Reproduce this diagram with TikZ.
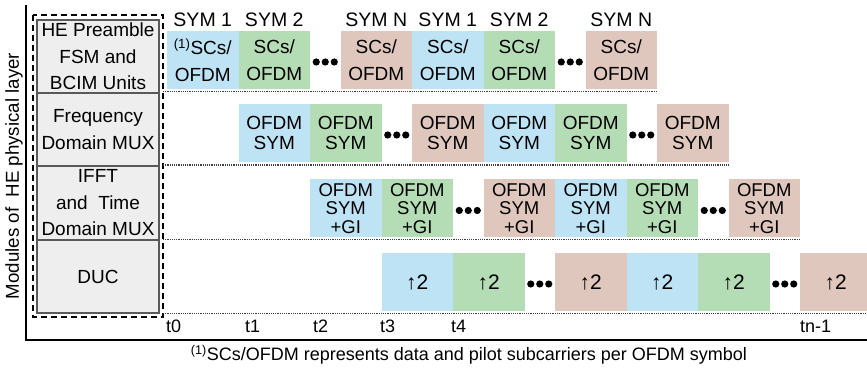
\documentclass[tikz,border=0pt]{standalone}
\usepackage{fontspec}
\setmainfont{Liberation Sans}
\usetikzlibrary{calc}
\definecolor{symblue}{HTML}{BEE3F5}
\definecolor{symgreen}{HTML}{B5DDB5}
\definecolor{sympink}{HTML}{DFC7BD}
\definecolor{modgray}{HTML}{EEEEEE}
\tikzset{
  symbox/.style={minimum width=71.5, minimum height=58, inner sep=0pt, align=center},
  modbox/.style={draw=black!65, fill=modgray, line width=1.3pt, minimum width=122, inner sep=0pt, align=center,
    font=\fontsize{19}{26.5}\selectfont},
  rowline/.style={densely dotted, line width=1.2pt, black!75},
}
\begin{document}
\begin{tikzpicture}[x=1pt,y=-1pt,font=\fontsize{18}{26}\selectfont]
\useasboundingbox (0,0) rectangle (867,371);
% axes
\draw[line width=2pt] (26,5) -- (26,340) -- (867,340);
\node[rotate=90, font=\fontsize{18.7}{22}\selectfont] (ylab) at (14,176) {Modules of\ \ HE physical layer};
% modules of the physical layer
\node[modbox, minimum height=73] (pre) at (98,56.5) {HE Preamble\\FSM and\\BCIM Units};
\node[modbox, minimum height=73] (fmux) at (98,129.5) {Frequency\\Domain MUX};
\node[modbox, minimum height=74] (tmux) at (98,203) {IFFT\\and\ \ Time\\Domain MUX};
\node[modbox, minimum height=73] (duc) at (98,276.5) {DUC};
\draw[dash pattern=on 6pt off 4pt, line width=1.5pt] (33,15) rectangle (163,317);
% symbols per row
\foreach \r/\yc/\ye in {0/60/91.5, 1/133/165, 2/208.5/239.5, 3/282/313.5}{
  \foreach \off/\col [count=\i] in {0/symblue, 71.5/symgreen, 173.5/sympink, 245/symblue, 316.5/symgreen, 418.5/sympink}{
    \coordinate (c\r-\i) at (167+71.5*\r+\off+35.75,\yc);
    \fill[\col] ($(c\r-\i)+(-35.75,-29)$) rectangle ($(c\r-\i)+(35.75,29)$);
  }
  \foreach \g in {158.25, 403.25}
    \foreach \d in {-9,0,9}
      \fill (167+71.5*\r+\g+\d,\yc+2) circle (3.6);
  \draw[rowline] (163,\ye) -- (657+71.5*\r,\ye);
}
% texts in the boxes
\foreach \i in {2,...,6}
  \node[symbox, font=\fontsize{19}{27}\selectfont] (t0-\i) at (c0-\i) {SCs/\\OFDM};
\node[symbox, font=\fontsize{19}{27}\selectfont] (t0-1) at (c0-1) {\textsuperscript{(1)}SCs/\\OFDM};
\foreach \i in {1,...,6}{
  \node[symbox, font=\fontsize{19}{20.5}\selectfont] (t1-\i) at (c1-\i) {OFDM\\SYM};
  \node[symbox, font=\fontsize{18.5}{18.5}\selectfont] (t2-\i) at (c2-\i) {OFDM\\SYM\\+GI};
  \node[symbox, font=\fontsize{21}{22}\selectfont] (t3-\i) at (c3-\i) {↑2};
}
% symbol names
\foreach \nm [count=\i] in {SYM 1, SYM 2, SYM N, SYM 1, SYM 2, SYM N}
  \node[font=\fontsize{19.5}{22}\selectfont] (n\i) at ($(c0-\i)+(0,-40)$) {\nm};
% time instants
\foreach \tt/\tx in {t0/166, t1/245, t2/313, t3/380, t4/451, tn-1/800}
  \node[anchor=west, inner sep=0pt] (\tt) at (\tx,326) {\tt};
\node (note) at (469,355) {\textsuperscript{(1)}SCs/OFDM represents data and pilot subcarriers per OFDM symbol};
\end{tikzpicture}
\end{document}
